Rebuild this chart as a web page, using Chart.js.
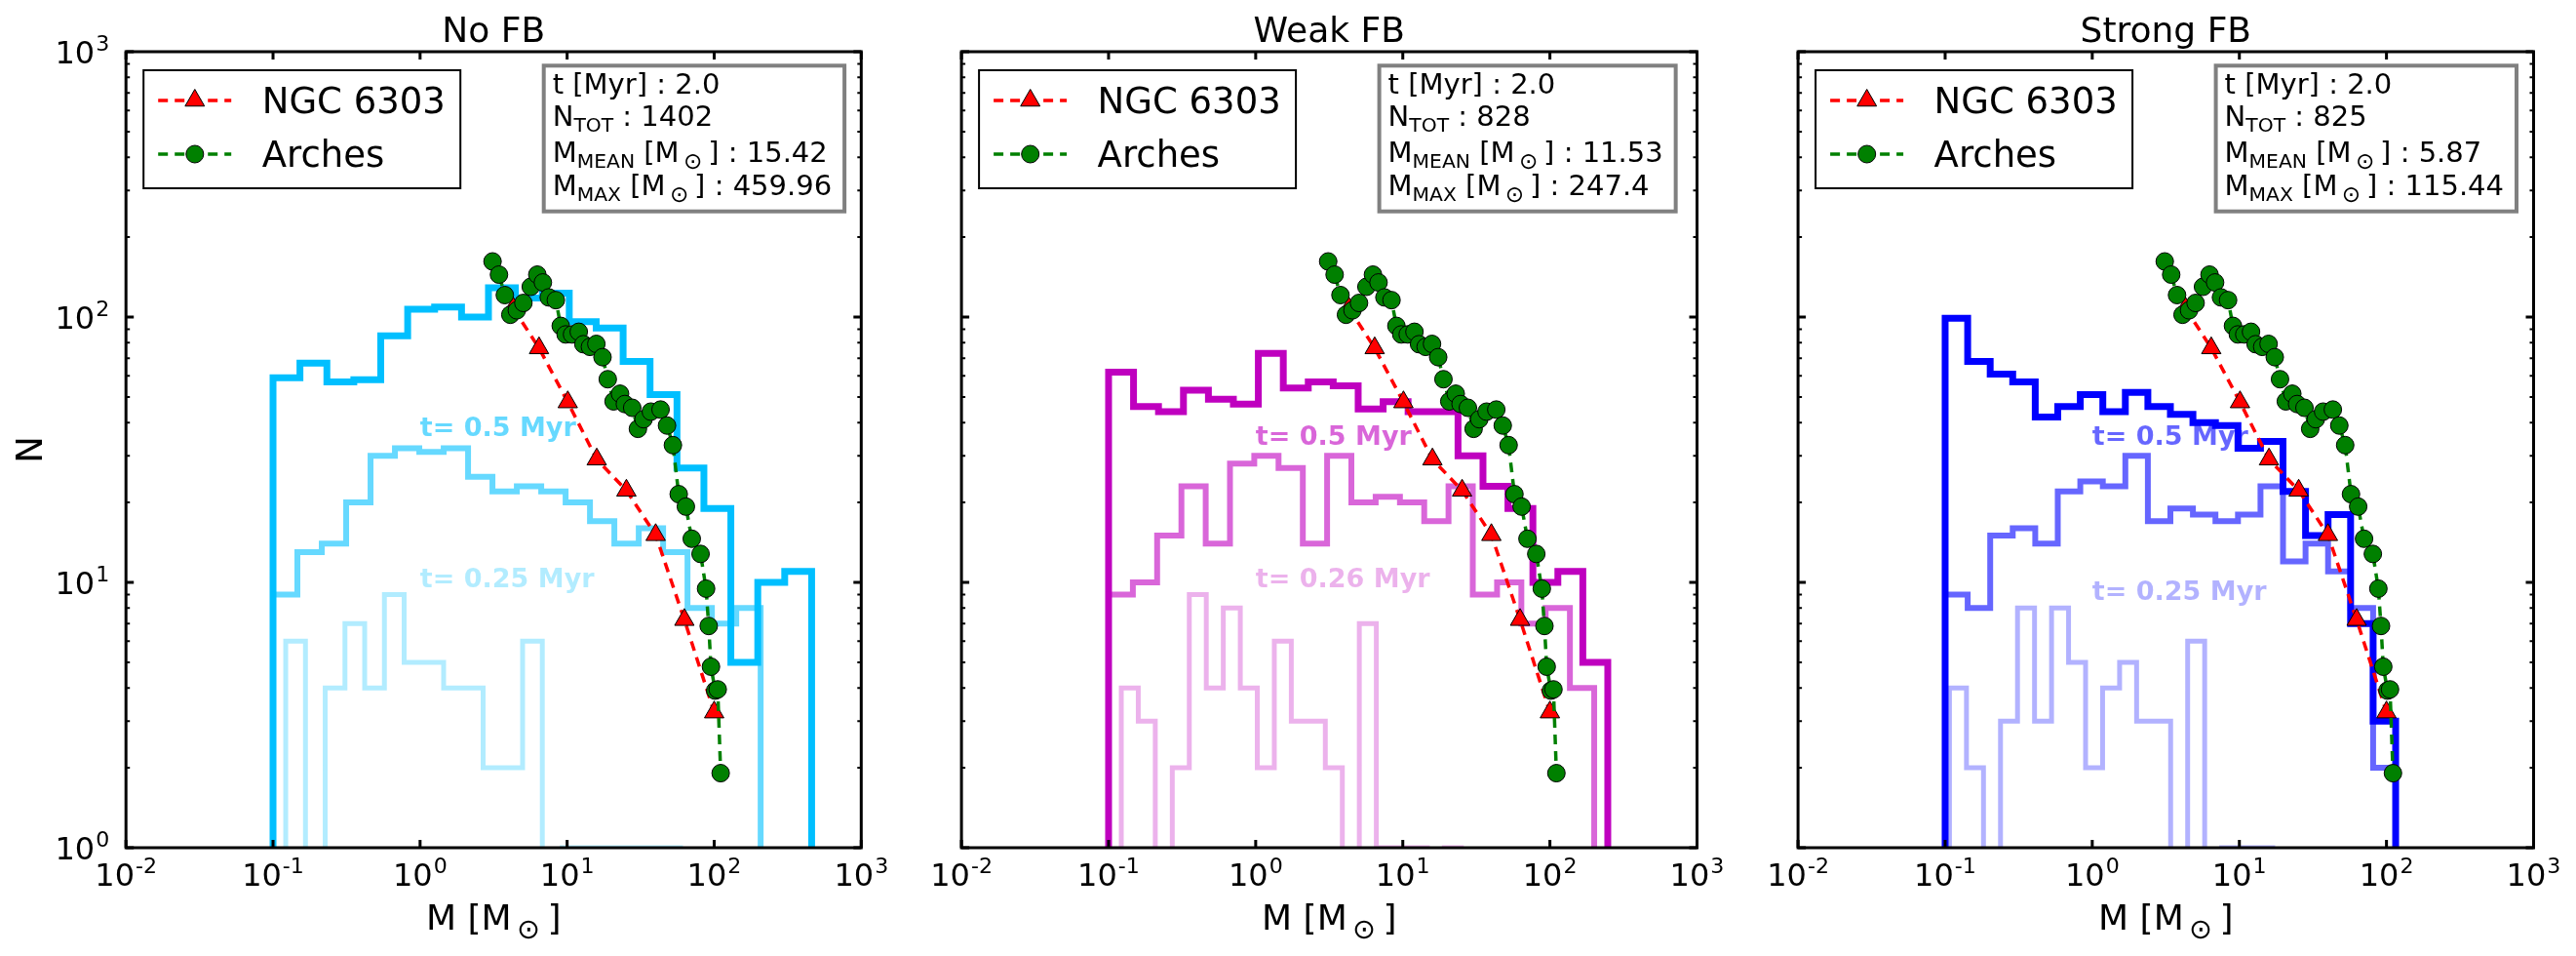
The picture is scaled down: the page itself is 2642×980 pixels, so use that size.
<!DOCTYPE html>
<html>
<head>
<meta charset="utf-8">
<script src="https://cdn.jsdelivr.net/npm/chart.js@4.4.1/dist/chart.umd.min.js"></script>
<style>
html, body { margin: 0; padding: 0; background: #fff; }
#wrap { position: relative; width: 2642px; height: 980px; overflow: hidden; }
canvas { position: absolute; top: 0; }
</style>
</head>
<body>
<div id="wrap">
  <canvas id="c0"></canvas>
  <canvas id="c1"></canvas>
  <canvas id="c2"></canvas>
</div>
<script>
var FONT = '"DejaVu Sans", "Bitstream Vera Sans", sans-serif';
var FLOOR = 0.5; // where empty bins are sent (below the axis, clipped)

// observed mass functions, the same in every panel
var ngcMass = [4.3, 6.44, 10.1, 15.9, 25.3, 40.0, 62.7, 100];
var ngcN = [108, 76.4, 47.8, 29.1, 22.2, 15.1, 7.23, 3.24];

var archesMass = [3.11, 3.44, 3.77, 4.11, 4.55, 5.04, 5.66, 6.27, 6.84, 7.50,
  8.38, 9.05, 9.77, 10.8, 12.0, 12.9, 14.3, 15.8, 17.4, 18.9,
  20.7, 22.9, 24.7, 27.7, 30.3, 33.1, 37.1, 43.2, 47.8, 52.4,
  57.4, 64.2, 70.4, 80.8, 88.1, 91.8, 95.1, 101.6, 105.7, 110.7];
var archesN = [162, 144.5, 121, 102, 106, 113, 130, 144.5, 135, 118.6,
  115.8, 92.6, 86, 86, 88, 79, 77.2, 79.2, 70.6, 58.3,
  48.1, 51.4, 47, 45.5, 37.9, 41.2, 44, 44.8, 39, 32.9,
  21.5, 19.3, 14.6, 12.8, 9.47, 6.85, 4.81, 3.91, 3.95, 1.91];

// simulated clusters: 20 log-spaced bins between [min, max] mass, counts per bin
// order in each panel: t = 2.0, 0.5, 0.25 Myr
var noFbRange = [[0.1, 459.96], [0.1, 207], [0.122, 59]];
var noFb20 = [59, 67, 57, 58, 85, 107, 109, 100, 129, 118, 123, 96, 91, 68, 51, 27, 19, 5, 10, 11];
var noFb05 = [9, 13, 14, 20, 30, 32, 31, 32, 25, 22, 23, 22, 20, 17, 14, 16, 13, 8, 7, 8];
var noFb025 = [6, 0, 4, 7, 4, 9, 5, 5, 4, 4, 2, 2, 6, 0, 1, 1, 1, 1, 1, 1];

var weakFbRange = [[0.1, 247.4], [0.1, 200], [0.122, 25]];
var weakFb20 = [62, 46, 44, 53, 49, 47, 73, 54, 57, 55, 45, 48, 44, 44, 30, 23, 19, 10, 11, 5];
var weakFb05 = [9, 10, 15, 23, 14, 28, 30, 27, 14, 30, 20, 21, 20, 17, 23, 9, 10, 7, 8, 4];
var weakFb026 = [4, 3, 0, 2, 9, 4, 8, 4, 2, 6, 3, 3, 2, 0, 7, 1, 1, 1, 0, 1];

var strongFbRange = [[0.1, 115.44], [0.1, 115.44], [0.107, 22]];
var strongFb20 = [99, 68, 61, 57, 42, 46, 51, 44, 52, 46, 43, 40, 39, 32, 34, 22, 15, 18, 7, 3];
var strongFb05 = [9, 8, 15, 16, 14, 22, 24, 23, 30, 17, 19, 18, 17, 18, 23, 12, 14, 11, 8, 2];
var strongFb025 = [4, 2, 0, 3, 8, 3, 8, 5, 2, 4, 5, 3, 3, 0, 6, 0, 1, 1, 1, 0];

var titles = ['No FB', 'Weak FB', 'Strong FB'];
var snapTimes = [['0.5', '0.25'], ['0.5', '0.26'], ['0.5', '0.25']];
var labelN = [[35.5, 9.6], [33, 9.6], [33, 8.6]]; // N where snapshot labels sit (at M = 1)
var tNow = '2.0';
var nTot = ['1402', '828', '825'];
var mMean = ['15.42', '11.53', '5.87'];
var mMax = ['459.96', '247.4', '115.44'];
var xTickExp = [-2, -1, 0, 1, 2, 3];
var yTickExp = [0, 1, 2, 3];

var panels = [
  { ranges: noFbRange, counts: [noFb20, noFb05, noFb025], rgb: '0,191,255' },
  { ranges: weakFbRange, counts: [weakFb20, weakFb05, weakFb026], rgb: '191,0,191' },
  { ranges: strongFbRange, counts: [strongFb20, strongFb05, strongFb025], rgb: '0,0,255' }
];
var alphas = [1, 0.6, 0.3];
var widths = [7, 6, 5];

// page layout
var canvasX = [0, 935, 1793];
var canvasW = [935, 858, 849];
var plotL = [129.2, 986.1, 1844.1];
var plotR = [883.3, 1740.5, 2598.5];
var plotT = 53, plotB = 869;

function histPoints(range, counts) {
  var n = counts.length;
  var a = Math.log10(range[0]);
  var step = (Math.log10(range[1]) - a) / n;
  var edge = function (k) { return Math.pow(10, a + k * step); };
  var pts = [{ x: edge(0), y: FLOOR }];
  counts.forEach(function (c, k) { pts.push({ x: edge(k), y: c > 0 ? c : FLOOR }); });
  pts.push({ x: edge(n), y: FLOOR });
  return pts;
}

function rgba(rgb, a) { return 'rgba(' + rgb + ',' + a + ')'; }

// draw a list of text runs (for sub/superscripts); returns total width
function runs(ctx, parts, x, y, measureOnly) {
  var w = 0;
  parts.forEach(function (p) {
    ctx.font = (p.bold ? 'bold ' : '') + p.size + 'px ' + FONT;
    w += p.pl || 0;
    if (!measureOnly) ctx.fillText(p.t, x + w, y + (p.dy || 0));
    w += ctx.measureText(p.t).width + (p.pr || 0);
  });
  return w;
}
function sub(t, size) { return { t: t, size: size * 0.7, dy: size * 0.22 }; }
function sun(size) { return { t: '\u2299', size: size * 0.8, dy: size * 0.25, pl: size * 0.15, pr: size * 0.2 }; }
function pow10(e, size) {
  return [{ t: '10', size: size }, { t: String(e), size: size * 0.69, dy: -size * 0.4, pl: 1 }];
}

function drawMarker(ctx, style, x, y, r, fill) {
  ctx.beginPath();
  if (style === 'circle') {
    ctx.arc(x, y, r, 0, Math.PI * 2);
  } else {
    var rad = 0;
    for (var k = 0; k < 3; k++) {
      var px = x + Math.sin(rad) * r, py = y - Math.cos(rad) * r;
      if (k === 0) ctx.moveTo(px, py); else ctx.lineTo(px, py);
      rad += Math.PI * 2 / 3;
    }
    ctx.closePath();
  }
  ctx.fillStyle = fill;
  ctx.fill();
  ctx.lineWidth = 1;
  ctx.strokeStyle = '#000';
  ctx.setLineDash([]);
  ctx.stroke();
}

var deco = {
  id: 'deco',
  beforeDatasetsDraw: function (chart, args, opts) {
    var i = opts.panel, ctx = chart.ctx;
    var xs = chart.scales.x, ys = chart.scales.y;
    ctx.save();
    ctx.textAlign = 'left';
    ctx.textBaseline = 'alphabetic';
    ctx.font = 'bold 27px ' + FONT;
    snapTimes[i].forEach(function (t, j) {
      ctx.fillStyle = rgba(panels[i].rgb, alphas[j + 1]);
      ctx.fillText('t= ' + t + ' Myr', xs.getPixelForValue(1), ys.getPixelForValue(labelN[i][j]));
    });
    ctx.restore();
  },
  afterDatasetsDraw: function (chart, args, opts) {
    var i = opts.panel, ctx = chart.ctx;
    var xs = chart.scales.x, ys = chart.scales.y;
    var a = chart.chartArea;
    var l = a.left, r = a.right, t = a.top, b = a.bottom;
    ctx.save();
    ctx.setLineDash([]);
    ctx.strokeStyle = '#000';
    ctx.fillStyle = '#000';

    // frame
    ctx.lineWidth = 3;
    ctx.strokeRect(l, t, r - l, b - t);

    // ticks, pointing inward
    ctx.lineWidth = 3;
    xTickExp.forEach(function (e) {
      var px = xs.getPixelForValue(Math.pow(10, e));
      ctx.beginPath();
      ctx.moveTo(px, b); ctx.lineTo(px, b - 8);
      ctx.moveTo(px, t); ctx.lineTo(px, t + 8);
      ctx.stroke();
    });
    yTickExp.forEach(function (e) {
      var py = ys.getPixelForValue(Math.pow(10, e));
      ctx.lineWidth = 3;
      ctx.beginPath();
      ctx.moveTo(l, py); ctx.lineTo(l + 8, py);
      ctx.moveTo(r, py); ctx.lineTo(r - 8, py);
      ctx.stroke();
      if (e < 3) {
        ctx.lineWidth = 2;
        for (var m = 2; m <= 9; m++) {
          var pm = ys.getPixelForValue(m * Math.pow(10, e));
          ctx.beginPath();
          ctx.moveTo(l, pm); ctx.lineTo(l + 4, pm);
          ctx.moveTo(r, pm); ctx.lineTo(r - 4, pm);
          ctx.stroke();
        }
      }
    });

    // tick labels
    ctx.textAlign = 'left';
    ctx.textBaseline = 'alphabetic';
    xTickExp.forEach(function (e) {
      var parts = pow10(e, 32);
      var w = runs(ctx, parts, 0, 0, true);
      runs(ctx, parts, xs.getPixelForValue(Math.pow(10, e)) - w / 2, b + 39);
    });
    if (i === 0) {
      yTickExp.forEach(function (e) {
        var parts = pow10(e, 32);
        var w = runs(ctx, parts, 0, 0, true);
        runs(ctx, parts, l - 17 - w, ys.getPixelForValue(Math.pow(10, e)) + 11.5);
      });
      // y title
      ctx.save();
      ctx.translate(43.3, (t + b) / 2);
      ctx.rotate(-Math.PI / 2);
      ctx.textAlign = 'center';
      ctx.font = '37px ' + FONT;
      ctx.fillText('N', 0, 0);
      ctx.restore();
    }

    // panel title
    ctx.textAlign = 'center';
    ctx.font = '36px ' + FONT;
    ctx.fillText(titles[i], (l + r) / 2, t - 10);
    ctx.textAlign = 'left';

    // x title  M [M_sun]
    var xt = [{ t: 'M [M', size: 36 }, sun(36), { t: ']', size: 36 }];
    var xw = runs(ctx, xt, 0, 0, true);
    runs(ctx, xt, (l + r) / 2 - xw / 2, b + 84);

    // legend
    var lx = l + 18, ly = 72, lw = 325, lh = 121;
    ctx.fillStyle = '#fff';
    ctx.fillRect(lx, ly, lw, lh);
    ctx.lineWidth = 2;
    ctx.strokeStyle = '#000';
    ctx.strokeRect(lx, ly, lw, lh);
    var entries = [
      { name: 'NGC 6303', color: '#ff0000', style: 'triangle', r: 11.5, y: 103 },
      { name: 'Arches', color: '#008000', style: 'circle', r: 9, y: 158 }
    ];
    entries.forEach(function (en) {
      ctx.strokeStyle = en.color;
      ctx.lineWidth = 3.5;
      ctx.setLineDash([10, 7]);
      ctx.beginPath();
      ctx.moveTo(l + 33, en.y); ctx.lineTo(l + 108, en.y);
      ctx.stroke();
      drawMarker(ctx, en.style, l + 70.6, en.y, en.r, en.color);
      ctx.fillStyle = '#000';
      ctx.font = '37px ' + FONT;
      ctx.fillText(en.name, l + 139.5, en.y + 13);
    });

    // info box
    var fs = 29;
    var lines = [
      [{ t: 't [Myr] : ' + tNow, size: fs }],
      [{ t: 'N', size: fs }, sub('TOT', fs), { t: ' : ' + nTot[i], size: fs }],
      [{ t: 'M', size: fs }, sub('MEAN', fs), { t: ' [M', size: fs }, sun(fs), { t: '] : ' + mMean[i], size: fs }],
      [{ t: 'M', size: fs }, sub('MAX', fs), { t: ' [M', size: fs }, sun(fs), { t: '] : ' + mMax[i], size: fs }]
    ];
    var baselines = [96, 128.5, 166, 200];
    var maxW = 0;
    lines.forEach(function (ln) { maxW = Math.max(maxW, runs(ctx, ln, 0, 0, true)); });
    var bx = l + 426.5, by = 65.3, bw = 11 + maxW + 15, bh = 153.4;
    ctx.setLineDash([]);
    ctx.fillStyle = '#fff';
    ctx.fillRect(bx, by, bw, bh);
    ctx.lineWidth = 4;
    ctx.strokeStyle = '#808080';
    ctx.strokeRect(bx + 2, by + 2, bw - 4, bh - 4);
    ctx.fillStyle = '#000';
    lines.forEach(function (ln, k) { runs(ctx, ln, bx + 11, baselines[k]); });

    ctx.restore();
  }
};

panels.forEach(function (p, i) {
  var cv = document.getElementById('c' + i);
  cv.width = canvasW[i];
  cv.height = 980;
  cv.style.left = canvasX[i] + 'px';

  var datasets = [
    {
      label: 'Arches',
      data: archesMass.map(function (m, k) { return { x: m, y: archesN[k] }; }),
      borderColor: '#008000', borderWidth: 3.5, borderDash: [10, 7],
      pointStyle: 'circle', pointRadius: 9,
      pointBackgroundColor: '#008000', pointBorderColor: '#000', pointBorderWidth: 1
    },
    {
      label: 'NGC 6303',
      data: ngcMass.map(function (m, k) { return { x: m, y: ngcN[k] }; }),
      borderColor: '#ff0000', borderWidth: 3.5, borderDash: [10, 7],
      pointStyle: 'triangle', pointRadius: 11.5,
      pointBackgroundColor: '#ff0000', pointBorderColor: '#000', pointBorderWidth: 1
    }
  ];
  for (var h = 2; h >= 0; h--) {
    datasets.push({
      label: 'hist' + h,
      data: histPoints(p.ranges[h], p.counts[h]),
      borderColor: rgba(p.rgb, alphas[h]),
      borderWidth: widths[h],
      stepped: 'before',
      pointRadius: 0,
      fill: false
    });
  }

  new Chart(cv, {
    type: 'line',
    data: { datasets: datasets },
    options: {
      responsive: false,
      animation: false,
      devicePixelRatio: 1,
      events: [],
      layout: {
        padding: {
          left: plotL[i] - canvasX[i],
          right: canvasX[i] + canvasW[i] - plotR[i],
          top: plotT,
          bottom: 980 - plotB
        }
      },
      scales: {
        x: { type: 'logarithmic', min: 0.01, max: 1000, display: false },
        y: { type: 'logarithmic', min: 1, max: 1000, display: false }
      },
      elements: { line: { tension: 0 } },
      plugins: {
        legend: { display: false },
        tooltip: { enabled: false },
        deco: { panel: i }
      }
    },
    plugins: [deco]
  });
});
</script>
</body>
</html>
